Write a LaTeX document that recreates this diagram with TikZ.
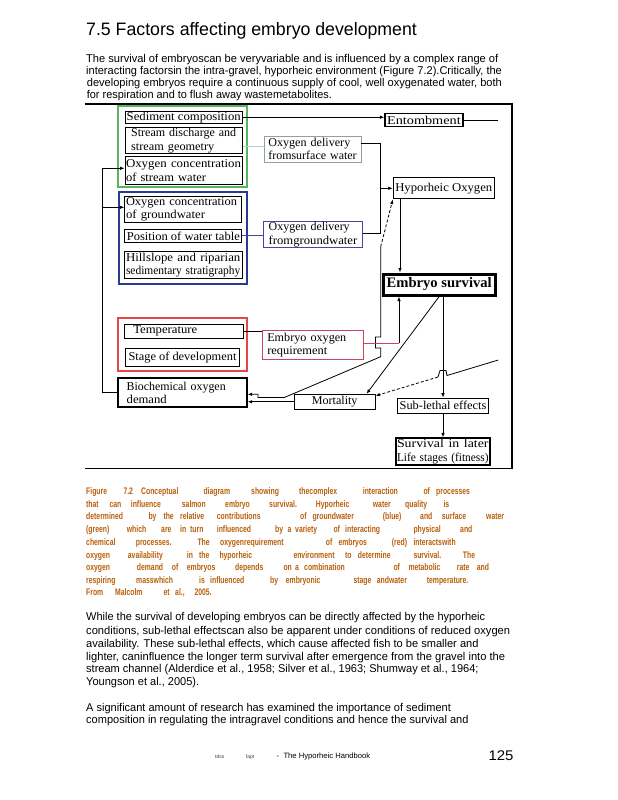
\documentclass[tikz,border=0pt]{standalone}
\usepackage{fontspec}
\setmainfont{Liberation Serif}
\newfontfamily\arialf{Liberation Sans}
\usepackage{graphicx}
\usetikzlibrary{arrows.meta}
\newcommand{\fw}[2]{\resizebox{#1pt}{\height}{#2}}
\definecolor{capcol}{RGB}{185,95,10}
\definecolor{gframe}{RGB}{90,180,95}
\definecolor{bframe}{RGB}{40,60,140}
\definecolor{rframe}{RGB}{230,70,70}
\definecolor{osurfc}{RGB}{140,165,150}
\definecolor{ogrndc}{RGB}{70,70,160}
\definecolor{eorc}{RGB}{200,70,90}
\definecolor{cyanln}{RGB}{170,215,215}
\newcommand{\capline}[3]{\foreach \x/\w [count=\i] in {#3} \node[capw] (cap#1w\i) at (\x,#2) {\scalebox{0.72}[1]{\w}};}
\begin{document}
\begin{tikzpicture}[x=1pt,y=-1pt,
  bx/.style={draw, line width=1pt, inner xsep=0pt, inner ysep=0.5pt, font=\fontsize{12}{13.3}\selectfont},
  sz/.style 2 args={minimum width=#1pt, minimum height=#2pt},
  arr/.style={-{Latex[length=4.5pt,width=3.5pt]}, line width=0.8pt},
  ln/.style={line width=0.8pt},
  body/.style={anchor=base west, inner sep=0pt, font=\arialf\fontsize{11.3}{13}\selectfont},
  capw/.style={anchor=base west, inner sep=0pt, font=\arialf\bfseries\fontsize{9.5}{11}\selectfont, text=capcol},
]
\useasboundingbox (0,0) rectangle (618,800);
\fill[white] (0,0) rectangle (618,800);

% title and first paragraph
\node[body] (title) at (86,36) {\fontsize{18}{20}\selectfont\fw{330.7}{7.5 Factors affecting embryo development}};
\node[body] (p1a) at (86,62.3) {\fw{412}{The survival of embryoscan be veryvariable and is influenced by a complex range of}};
\node[body] (p1b) at (86,74.7) {\fw{415.7}{interacting factorsin the intra-gravel, hyporheic environment (Figure 7.2).Critically, the}};
\node[body] (p1c) at (86.7,86.3) {\fw{415}{developing embryos require a continuous supply of cool, well oxygenated water, both}};
\node[body] (p1d) at (86.7,99) {\fw{245}{for respiration and to flush away wastemetabolites.}};

% figure frame
\draw[line width=1.3pt] (85,104) -- (512,104) -- (512,468.5) -- (85,468.5);

% group frames
\draw[gframe, line width=2pt] (118.3,106) rectangle (247.3,187.3);
\draw[bframe, line width=2pt] (119,191.7) rectangle (247.3,284.3);
\draw[rframe, line width=2pt] (118.3,317.7) rectangle (247.3,370.7);

% nodes
\node[bx, sz={117.3}{12.3}] (sed) at (183.7,117.2) {\fw{114}{Sediment composition}};
\node[bx, sz={117.3}{25.6}, text width=105pt, align=left] (disch) at (183.7,140.5) {\fw{105}{Stream discharge and}\\\fw{83}{stream geometry}};
\node[bx, sz={117.3}{27.6}, text width=115.4pt, align=left] (ostream) at (183.7,170.5) {\fw{115}{Oxygen concentration}\\\fw{80}{of stream water}};
\node[bx, sz={116.7}{26.3}, text width=114.6pt, align=left] (ogw) at (183.3,209.2) {\fw{111}{Oxygen concentration}\\\fw{79}{of groundwater}};
\node[bx, sz={116.7}{12.7}] (wtab) at (183.3,236.3) {\fw{113}{Position of water table}};
\node[bx, sz={118.3}{27.3}, text width=114.4pt, align=left] (hill) at (183.2,265.3) {\fw{114.4}{Hillslope and riparian}\\\fw{114.4}{sedimentary stratigraphy}};
\node[bx, draw=osurfc, line width=0.8pt, sz={97}{26.3}, text width=88.4pt, align=left] (osurf) at (312.5,149.2) {\fw{82}{Oxygen delivery}\\\fw{88.4}{fromsurface water}};
\node[bx, draw=ogrndc, line width=0.8pt, sz={99.4}{26}, text width=88.6pt, align=left] (ogrnd) at (313,234.7) {\fw{81}{Oxygen delivery}\\\fw{88.6}{fromgroundwater}};
\node[bx, line width=1.5pt, sz={77.7}{13.4}] (ent) at (423.9,120) {\fw{73.7}{Entombment}};
\node[bx, sz={101}{21.3}] (hypo) at (443.8,188.3) {\fw{97}{Hyporheic Oxygen}};
\node[bx, line width=3pt, sz={111.7}{21}, font=\fontsize{14.5}{16}\selectfont\bfseries] (surv) at (439.2,284.5) {\fw{105}{Embryo survival}};
\node[bx, sz={119}{14}, text width=115pt, align=left] (temp) at (183.8,331.3) {\hspace*{7pt}\fw{64}{Temperature}};
\node[bx, sz={113.6}{18.4}] (stage) at (182.5,357.5) {\fw{108}{Stage of development}};
\node[bx, draw=eorc, line width=0.8pt, sz={101}{28.3}, text width=91pt, align=left] (eor) at (312.8,344.8) {\fw{79}{Embryo oxygen}\\\fw{60}{requirement}};
\node[bx, line width=2pt, sz={129}{29}, text width=111pt, align=left] (bod) at (182.2,392.8) {\fw{99}{Biochemical oxygen}\\\fw{40}{demand}};
\node[bx, sz={80.7}{15}] (mort) at (334.7,401.8) {\fw{45.6}{Mortality}};
\node[bx, line width=1.2pt, sz={90.6}{15}] (sub) at (443,405.8) {\fw{86.7}{Sub-lethal effects}};
\node[bx, line width=2pt, sz={94.3}{26.7}, text width=91.6pt, align=left] (later) at (442.8,451.7) {\fw{91.6}{Survival in later}\\\fw{91.6}{Life stages (fitness)}};

% coordinates
\coordinate (entEnd) at (498,120);
\coordinate (yDisch) at (0,146.7);
\coordinate (jt) at (380,143.3);
\coordinate (jb) at (380,233.3);
\coordinate (jm) at (380,188.3);
\coordinate (yW) at (0,235.5);
\coordinate (xH) at (400,0);
\coordinate (v1) at (380.7,246.7);
\coordinate (yB1) at (0,394.3);
\coordinate (ex) at (399,343.3);
\coordinate (fr) at (498.3,360);
\coordinate (br) at (438,377);
\coordinate (L1) at (102,168.3);
\coordinate (L2) at (102,207.3);

% connectors
\draw[arr] (sed.east) -- (sed.east -| ent.west);
\draw[ln] (ent.east) -- (entEnd);
\draw[ln, cyanln] (disch.east |- yDisch) -- (osurf.west |- yDisch);
\draw[ln] (osurf.east |- jt) -- (jt) -- (jb) -- (ogrnd.east |- jb);
\draw[arr] (jm) -- (jm -| hypo.west);
\draw[ln, ogrndc] (wtab.east |- yW) -- (ogrnd.west |- yW);
\draw[arr] (xH |- hypo.south) -- (xH |- surv.north);
\draw[arr, dash pattern=on 3pt off 2pt] (v1) -- (hypo.south west);
\draw[arr] (v1) -- (380.7,337) -- (375.5,337) -- (375.5,348) -- (380.7,348) -- (380.7,356.7) -- (284.3,397.5) -- (258,397.5) -- (258,394.3) -- (bod.east |- yB1);
\draw[arr] (mort.west) -- (mort.west -| bod.east);
\draw[ln, eorc] (eor.east |- ex) -- (ex);
\draw[arr] (ex) -- (ex |- surv.south);
\draw[ln] (temp.east) -- (temp.east -| eor.west);
\draw[arr] (surv.south) -- ([xshift=-9pt]mort.north east);
\draw[arr] (sub.north |- surv.south) -- (sub.north);
\draw[arr] (sub.south) -- (sub.south |- later.north);
\draw[ln] (fr) -- (447,375.5) -- (446,370.5) -- (440,370.5) -- (br);
\draw[arr, dash pattern=on 3pt off 2pt] (br) -- ([yshift=6pt]mort.east);
\draw[arr] (bod.west) -| (L1) -- (L1 -| ostream.west);
\draw[arr] (L2) -- (L2 -| ogw.west);

% caption
\capline{a}{494.2}{86/Figure, 123.3/7.2, 141/Conceptual, 203.3/diagram, 251/showing, 299/thecomplex, 362.7/interaction, 423.3/of, 436/processes}
\capline{b}{507.2}{86/that, 109.3/can, 130.7/influence, 181.7/salmon, 225/embryo, 269/survival., 315.7/Hyporheic, 372.7/water, 405/quality, 443.3/is}
\capline{c}{519.8}{86/determined, 148.3/by, 163.3/the, 180/relative, 216.7/contributions, 300/of, 312.3/groundwater, 382.7/(blue), 420/and, 441.7/surface, 486/water}
\capline{d}{532.5}{86/(green), 126.7/which, 161/are, 180/in, 190/turn, 216.7/influenced, 275/by, 287.3/a, 295/variety, 333.3/of, 345/interacting, 413.3/physical, 460/and}
\capline{e}{545.5}{86/chemical, 135.7/processes., 197.3/The, 220/oxygenrequirement, 325.7/of, 338.3/embryos, 391.7/(red), 413.3/interactswith}
\capline{f}{558.2}{86/oxygen, 127.7/availability, 186.7/in, 199/the, 219.3/hyporheic, 293.3/environment, 345/to, 357.7/determine, 413.3/survival., 462.7/The}
\capline{g}{570.8}{86/oxygen, 136.7/demand, 171.7/of, 186.7/embryos, 235/depends, 283.3/on, 295/a, 304/combination, 393.3/of, 408.3/metabolic, 456.7/rate, 476.7/and}
\capline{h}{583.5}{86/respiring, 136/masswhich, 199/is, 210/influenced, 270/by, 285.7/embryonic, 353.3/stage, 376.7/andwater, 426.7/temperature.}
\capline{i}{595.8}{86/From, 115/Malcolm, 163.3/et, 175/{al.,}, 194.3/2005.}

% second paragraphs
\node[body] (p2a) at (86,620.7) {\fw{399}{While the survival of developing embryos can be directly affected by the hyporheic}};
\node[body] (p2b) at (86,634) {\fw{424}{conditions, sub-lethal effectscan also be apparent under conditions of reduced oxygen}};
\node[body] (p2c) at (86,647.3) {\fw{392.3}{availability. These sub-lethal effects, which cause affected fish to be smaller and}};
\node[body] (p2d) at (86,660) {\fw{419}{lighter, caninfluence the longer term survival after emergence from the gravel into the}};
\node[body] (p2e) at (86,672.7) {\fw{392.3}{stream channel (Alderdice et al., 1958; Silver et al., 1963; Shumway et al., 1964;}};
\node[body] (p2f) at (86,685.7) {\fw{113}{Youngson et al., 2005).}};
\node[body] (p3a) at (86,711.3) {\fw{364.7}{A significant amount of research has examined the importance of sediment}};
\node[body] (p3b) at (86,723.3) {\fw{382.3}{composition in regulating the intragravel conditions and hence the survival and}};

% footer
\node[anchor=base west, inner sep=0pt, font=\arialf\fontsize{5}{6}\selectfont, text=black!75] (f1) at (215,758) {tdss};
\node[anchor=base west, inner sep=0pt, font=\arialf\fontsize{5}{6}\selectfont, text=black!75] (f2) at (245.7,758) {fapt};
\node[anchor=base west, inner sep=0pt, font=\arialf\fontsize{7.7}{9}\selectfont] (f3) at (276.5,758.5) {-};
\node[anchor=base west, inner sep=0pt, font=\arialf\fontsize{7.7}{9}\selectfont] (f4) at (283.3,758.5) {\fw{86.7}{The Hyporheic Handbook}};
\node[anchor=base west, inner sep=0pt, font=\arialf\fontsize{14}{16}\selectfont] (f5) at (488.3,760.7) {\fw{25}{125}};
\end{tikzpicture}
\end{document}
